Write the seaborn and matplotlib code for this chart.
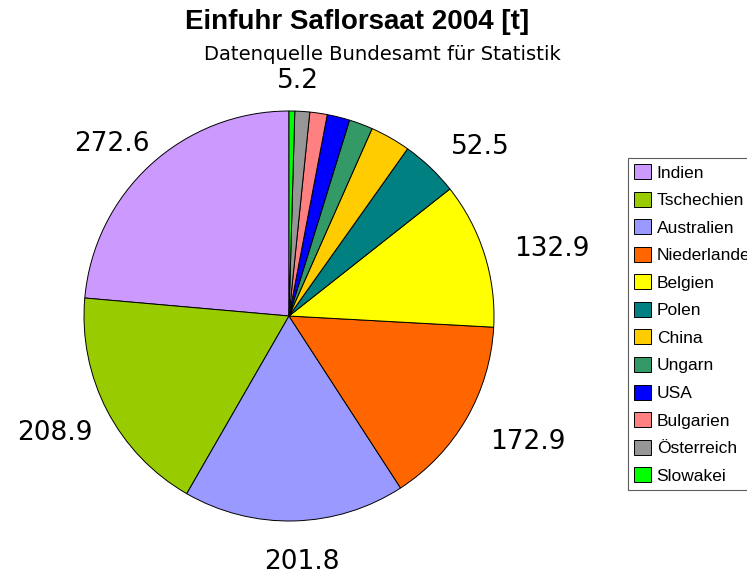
import numpy as np
import matplotlib
matplotlib.use('Agg')
import matplotlib.pyplot as plt
import seaborn as sns

sns.set_style('white')
plt.rcParams['text.color'] = 'black'

# Daten (Tonnen)
laender = ['Indien', 'Tschechien', 'Australien', 'Niederlande', 'Belgien', 'Polen',
           'China', 'Ungarn', 'USA', 'Bulgarien', 'Österreich', 'Slowakei']
werte = [272.6, 208.9, 201.8, 172.9, 132.9, 52.5, 36.7, 21.6, 20.6, 15.8, 13.5, 5.2]
beschriftung = ['272.6', '208.9', '201.8', '172.9', '132.9', '52.5',
                '', '', '', '', '', '5.2']
farben = ['#CC99FF', '#99CC00', '#9999FF', '#FF6600', '#FFFF00', '#008080',
          '#FFCC00', '#339966', '#0000FF', '#FF8080', '#969696', '#00FF00']

W, H = 747, 574
fig = plt.figure(figsize=(W / 100, H / 100), dpi=100)
fig.patch.set_facecolor('white')

# Kreis: Mitte (289, 316), Radius 205 px
cx, cy, r = 289, 316, 205
ax = fig.add_axes([(cx - r) / W, (H - cy - r) / H, 2 * r / W, 2 * r / H])

wedges, _ = ax.pie(werte, colors=sns.color_palette(farben), startangle=90,
                   counterclock=True, radius=1,
                   wedgeprops=dict(edgecolor='black', linewidth=0.7))
ax.set_xlim(-1, 1)
ax.set_ylim(-1, 1)
ax.set_aspect('equal')
ax.axis('off')

# Werte ausserhalb des Kreises
for w, txt in zip(wedges, beschriftung):
    if not txt:
        continue
    mid = np.deg2rad((w.theta1 + w.theta2) / 2)
    c, s = np.cos(mid), np.sin(mid)
    ax.annotate(txt, xy=(1.1 * c, 1.1 * s), xytext=(c * 32 + 4, s * 11 - 4),
                textcoords='offset points', ha='center', va='center',
                fontsize=19, family='DejaVu Sans', annotation_clip=False)

fig.text(357 / W, 1 - 22 / H, 'Einfuhr Saflorsaat 2004 [t]', ha='center', va='center',
         fontsize=20, fontweight='bold', family='Liberation Sans')
fig.text(382 / W, 1 - 54 / H, 'Datenquelle Bundesamt für Statistik', ha='center',
         va='center', fontsize=14.1, family='DejaVu Sans')

leg = fig.legend(wedges, laender, loc='upper left',
                 bbox_to_anchor=(628 / W, 1 - 158 / H), bbox_transform=fig.transFigure,
                 frameon=True, fancybox=False, borderpad=0.35, labelspacing=0.64,
                 handlelength=0.95, handleheight=0.95, handletextpad=0.35,
                 borderaxespad=0, prop={'family': 'Liberation Sans', 'size': 12.5})
leg.get_frame().set_edgecolor('#333333')
leg.get_frame().set_linewidth(0.8)

fig.savefig('out.png', dpi=100, facecolor='white')
